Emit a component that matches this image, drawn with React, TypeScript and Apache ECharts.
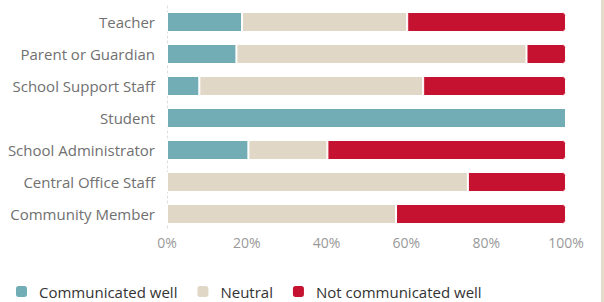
import React, { useEffect, useRef } from "react";
import * as echarts from "echarts";

const categories = [
  "Teacher",
  "Parent or Guardian",
  "School Support Staff",
  "Student",
  "School Administrator",
  "Central Office Staff",
  "Community Member",
];
const communicatedWell = [18.8, 17.4, 8.1, 100, 20.4, 0, 0];
const neutral = [41.4, 72.7, 56.1, 0, 19.8, 75.4, 57.4];
const notCommunicatedWell = [39.8, 9.9, 35.8, 0, 59.8, 24.6, 42.6];
const xTicks = [0, 20, 40, 60, 80, 100];

export default function App() {
  const ref = useRef<HTMLDivElement>(null);
  useEffect(() => {
    if (!ref.current) return;
    const chart = echarts.init(ref.current, undefined, { renderer: "svg" });
    const font = "'Open Sans', sans-serif";
    chart.setOption({
      animation: false,
      textStyle: { fontFamily: font },
      grid: { left: 167, right: 38, top: 6, bottom: 72, containLabel: false },
      legend: {
        bottom: -2,
        left: 11,
        itemWidth: 11,
        itemHeight: 11,
        itemGap: 20,
        icon: "roundRect",
        itemStyle: { borderWidth: 0 },
        textStyle: {
          color: "#333",
          fontSize: 15,
          fontFamily: font,
          padding: [0, 0, 0, 7],
        },
        data: ["Communicated well", "Neutral", "Not communicated well"],
      },
      xAxis: {
        type: "value",
        min: xTicks[0],
        max: xTicks[xTicks.length - 1],
        interval: 20,
        axisLine: { show: false },
        axisTick: { show: false },
        splitLine: { show: false },
        axisLabel: {
          color: "#999",
          fontSize: 14,
          margin: 5,
          formatter: (v: number) => v + "%",
        },
      },
      yAxis: {
        type: "category",
        inverse: true,
        data: categories,
        axisTick: { show: false },
        axisLine: { show: true, lineStyle: { color: "#ddd", type: [2, 3], width: 1 } },
        axisLabel: { color: "#707070", fontSize: 15, margin: 12 },
      },
      graphic: [
        {
          type: "rect",
          right: 0,
          top: 0,
          shape: { width: 3, height: 302 },
          style: { fill: "#e3dccd" },
        },
      ],
      series: [
        {
          name: "Communicated well",
          type: "bar",
          stack: "s",
          barWidth: 20,
          data: communicatedWell,
          itemStyle: { color: "#72adb5", borderColor: "#fff", borderWidth: 1 },
        },
        {
          name: "Neutral",
          type: "bar",
          stack: "s",
          barWidth: 20,
          data: neutral,
          itemStyle: { color: "#e0d7c6", borderColor: "#fff", borderWidth: 1 },
        },
        {
          name: "Not communicated well",
          type: "bar",
          stack: "s",
          barWidth: 20,
          data: notCommunicatedWell,
          itemStyle: {
            color: "#c41230",
            borderColor: "#fff",
            borderWidth: 1,
            borderRadius: [0, 3, 3, 0],
          },
        },
      ],
    });
    return () => chart.dispose();
  }, []);
  return (
    <div
      ref={ref}
      style={{ position: "absolute", left: 0, top: 0, width: 604, height: 302 }}
    />
  );
}
